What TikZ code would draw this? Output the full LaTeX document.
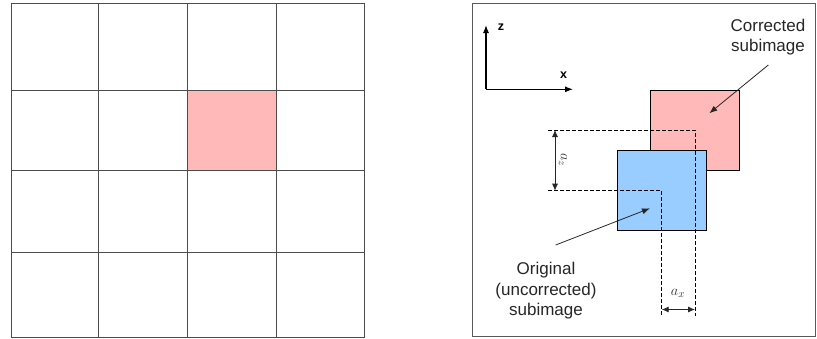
\documentclass[tikz,border=0pt]{standalone}
\usepackage{fontspec}
\setmainfont{Liberation Sans}
\usetikzlibrary{arrows.meta}
\definecolor{pinkc}{HTML}{FFB9B9}
\definecolor{bluec}{HTML}{99CCFF}
\begin{document}
\begin{tikzpicture}[x=1pt,y=-1pt,
  gridline/.style={draw=black!70, line width=1pt},
  framebox/.style={draw=black!65, line width=1pt},
  square/.style={draw=black, line width=0.9pt},
  dashline/.style={draw=black, line width=0.8pt, dash pattern=on 3.5pt off 2.5pt},
  pointer/.style={draw=black!85, line width=0.8pt, -{Latex[length=8pt,width=6pt]}},
  axis/.style={draw=black, line width=1.1pt, -{Latex[length=8pt,width=6pt]}},
  dimarrow/.style={draw=black!85, line width=0.8pt, {Latex[length=7pt,width=6pt]}-{Latex[length=7pt,width=6pt]}},
  label/.style={font=\fontsize{17}{20.5}\selectfont, align=center, text=black!85, inner sep=0pt},
  axislabel/.style={font=\fontsize{12.5}{14}\selectfont\bfseries, inner sep=0pt},
  dimlabel/.style={font=\fontsize{15}{17}\selectfont, text=black!80, inner sep=0pt}]
\useasboundingbox (0,0) rectangle (817,338);
% left grid
\fill[pinkc] (188,90) rectangle (277,170.3);
\foreach \xx in {11,98.7,187.7,276.7,364.7}
  \draw[gridline] (\xx,3.3) -- (\xx,337.5);
\foreach \yy in {3.3,90,170.3,252,337}
  \draw[gridline] (11,\yy) -- (364.7,\yy);
% right panel
\draw[framebox] (472.3,3) rectangle (815.5,336.5);
% axes
\coordinate (O) at (486,89.3);
\coordinate (zend) at (486,25);
\coordinate (xend) at (573,89.3);
\draw[axis] (O) -- (zend);
\draw[axis] (O) -- (xend);
\node[axislabel] (zl) at (501,27.5) {z};
\node[axislabel] (xl) at (563.5,75.5) {x};
% squares
\draw[square, fill=pinkc] (650.7,90) rectangle (739.3,170.7);
\draw[square, fill=bluec] (617.3,150) rectangle (706.7,230.7);
% dashed guides
\coordinate (t1) at (548.3,130);
\coordinate (t2) at (695,130);
\coordinate (t3) at (695,316);
\coordinate (b1) at (548.3,190.7);
\coordinate (b2) at (661.7,190.7);
\coordinate (b3) at (661.7,316);
\draw[dashline] (t1) -- (t2) -- (t3);
\draw[dashline] (b1) -- (b2) -- (b3);
% dimension arrows
\coordinate (az1) at (555,130);
\coordinate (az2) at (555,190.7);
\draw[dimarrow] (az1) -- (az2);
\node[dimlabel, rotate=-90] (azl) at (563,160) {$a_z$};
\coordinate (ax1) at (661.7,309.5);
\coordinate (ax2) at (695,309.5);
\draw[dimarrow] (ax1) -- (ax2);
\node[dimlabel] (axl) at (678,293) {$a_x$};
% labels
\node[label] (corr) at (768,37) {Corrected\\subimage};
\coordinate (corrTail) at (768.3,65);
\coordinate (corrHead) at (709.3,113.3);
\draw[pointer] (corrTail) -- (corrHead);
\node[label] (orig) at (546,291) {Original\\(uncorrected)\\subimage};
\coordinate (origTail) at (555.7,245);
\coordinate (origHead) at (650,208.3);
\draw[pointer] (origTail) -- (origHead);
\end{tikzpicture}
\end{document}
